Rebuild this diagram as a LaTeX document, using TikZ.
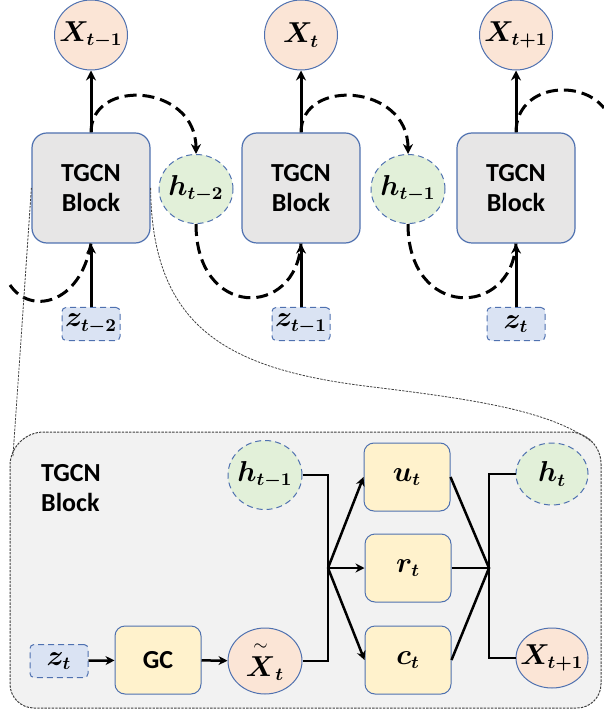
\documentclass[tikz,border=0pt]{standalone}
\usepackage{amsmath,bm}
\usepackage{fontspec}
\newfontfamily\calibri{Carlito}
\usetikzlibrary{arrows.meta,shapes.geometric,positioning}

\definecolor{peach}{HTML}{FBE5D6}
\definecolor{mint}{HTML}{E2F0D9}
\definecolor{sky}{HTML}{DAE3F3}
\definecolor{lemon}{HTML}{FFF2CC}
\definecolor{blockgray}{HTML}{E7E6E6}
\definecolor{panelgray}{HTML}{F2F2F2}
\definecolor{edgeblue}{HTML}{4F71B0}

\tikzset{
  labelfont/.style={font=\calibri\bfseries\fontsize{13}{15}\selectfont},
  mathfont/.style={font=\fontsize{13.5}{15}\selectfont},
  block/.style={rectangle,rounded corners=7.5pt,draw=edgeblue,line width=0.6pt,
    fill=blockgray,minimum width=59pt,minimum height=55pt,align=center,labelfont},
  outnode/.style={ellipse,draw=edgeblue,line width=0.5pt,fill=peach,
    minimum width=36.5pt,minimum height=35pt,inner sep=-3.5pt,mathfont},
  hidnode/.style={ellipse,draw=edgeblue,line width=0.5pt,densely dashed,fill=mint,
    minimum width=37pt,minimum height=34.5pt,inner sep=-3.5pt,mathfont},
  innode/.style={rectangle,rounded corners=2pt,draw=edgeblue,line width=0.5pt,densely dashed,
    fill=sky,minimum width=29pt,minimum height=16.5pt,inner sep=0pt,mathfont},
  gate/.style={rectangle,rounded corners=5pt,draw=edgeblue,line width=0.5pt,fill=lemon,
    minimum width=43pt,minimum height=34pt,inner sep=0pt,mathfont},
  flow/.style={line width=1.5pt,-{Stealth[length=5pt,width=5pt]}},
  recur/.style={line width=1.5pt,dash pattern=on 6pt off 3pt},
  wire/.style={line width=1.25pt},
  zoomline/.style={draw=black!75,line width=0.4pt,dash pattern=on 1.2pt off 0.6pt},
  panel/.style={fill=panelgray,draw=black!75,line width=0.5pt,dash pattern=on 1.2pt off 0.6pt}
}

\begin{document}
\begin{tikzpicture}[x=0.5pt,y=-0.5pt]
    \useasboundingbox (0,0) rectangle (603,715);

    % unrolled chain
    \node[block] (Ba) at (91,188) {TGCN\\Block};
    \node[block] (Bb) at (301,188) {TGCN\\Block};
    \node[block] (Bc) at (516,188) {TGCN\\Block};

    \node[outnode] (Xa) at (91,35) {$\bm{X_{t-1}}$};
    \node[outnode] (Xb) at (301,35) {$\bm{X_{t}}$};
    \node[outnode] (Xc) at (516,35) {$\bm{X_{t+1}}$};

    \node[hidnode] (ha) at (196,189) {$\bm{h_{t-2}}$};
    \node[hidnode] (hb) at (408,189) {$\bm{h_{t-1}}$};

    \node[innode] (za) at (91,324) {$\bm{z_{t-2}}$};
    \node[innode] (zb) at (301,324) {$\bm{z_{t-1}}$};
    \node[innode] (zc) at (516,324) {$\bm{z_{t}}$};

    \draw[flow] (Ba) -- (Xa);
    \draw[flow] (Bb) -- (Xb);
    \draw[flow] (Bc) -- (Xc);
    \draw[flow] (za) -- (Ba);
    \draw[flow] (zb) -- (Bb);
    \draw[flow] (zc) -- (Bc);

    % hidden state passing
    \coordinate (inL) at (10,285);
    \coordinate (outR) at (604,108);
    \draw[recur] (inL) .. controls (30,315) and (80,305) .. (Ba.south);
    \draw[recur,-{Stealth[length=5pt,width=5pt]}] (Ba.north) .. controls +(0,-55) and +(0,-70) .. (ha.north);
    \draw[recur] (ha.south) .. controls +(0,95) and +(-5,75) .. (Bb.south);
    \draw[recur,-{Stealth[length=5pt,width=5pt]}] (Bb.north) .. controls +(0,-55) and +(0,-70) .. (hb.north);
    \draw[recur] (hb.south) .. controls +(0,95) and +(-5,75) .. (Bc.south);
    \draw[recur] (Bc.north) .. controls (516,85) and (580,78) .. (outR);

    % zoomed block
    \path[panel] (10,708) [rounded corners=17pt] -- (10,432) [rounded corners=16pt] -- (601,432)
        [rounded corners=12pt] -- (601,708) -- cycle;
    \coordinate (pnw) at (13,456);
    \coordinate (pne) at (592,442);
    \draw[zoomline] (Ba.west) -- (pnw);
    \draw[zoomline] (Ba.east) .. controls (152,330) and (230,370) .. (373,387)
        .. controls (470,399) and (550,410) .. (pne);

    \node[labelfont,align=left] (lbl) at (71,488) {TGCN\\Block};

    \node[hidnode] (hin) at (265,475) {$\bm{h_{t-1}}$};
    \node[innode] (zin) at (59,661) {$\bm{z_{t}}$};
    \node[gate,labelfont] (gc) at (158,660) {GC};
    \node[outnode,minimum width=37pt,minimum height=33pt] (xt) at (265,661) {$\overset{\sim}{\bm{X}}_{\bm{t}}$};

    \coordinate (j1) at (328,568);
    \node[gate] (u) at (407,477) {$\bm{u_{t}}$};
    \node[gate] (r) at (408,568) {$\bm{r_{t}}$};
    \node[gate] (c) at (408,660) {$\bm{c_{t}}$};
    \coordinate (j2) at (489,568);

    \node[hidnode,minimum width=36pt,minimum height=31pt] (ht) at (552,474) {$\bm{h_{t}}$};
    \node[outnode,minimum width=36pt,minimum height=30pt] (xn) at (552,658) {$\bm{X_{t+1}}$};

    \draw[wire,-{Stealth[length=4.5pt,width=4.5pt]}] (zin) -- (gc);
    \draw[wire,-{Stealth[length=4.5pt,width=4.5pt]}] (gc) -- (xt);
    \draw[wire] (hin.east) -| (j1) |- (xt.east);
    \draw[wire,-{Stealth[length=4.5pt,width=4.5pt]}] (j1) -- (u.west);
    \draw[wire,-{Stealth[length=4.5pt,width=4.5pt]}] (j1) -- (r.west);
    \draw[wire,-{Stealth[length=4.5pt,width=4.5pt]}] (j1) -- (c.west);
    \draw[wire] (u.east) -- (j2) -- (c.east);
    \draw[wire] (r.east) -- (j2);
    \draw[wire] (ht.west) -| (j2) |- (xn.west);
\end{tikzpicture}
\end{document}
